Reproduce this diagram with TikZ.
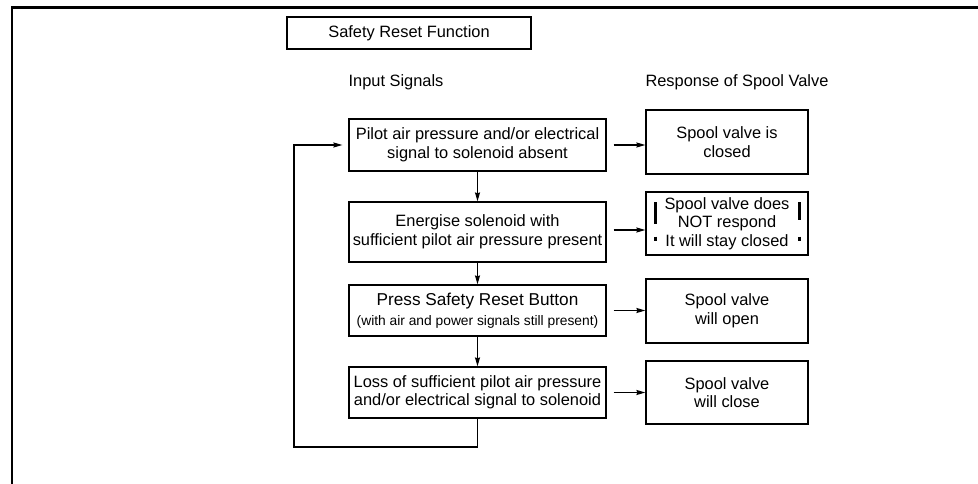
\documentclass[tikz,border=0pt]{standalone}
\usepackage{fontspec}
\setmainfont{Liberation Sans}
\usetikzlibrary{arrows.meta,calc}
\begin{document}
\begin{tikzpicture}[x=1pt,y=-1pt,
  txt/.style={font=\fontsize{16.4}{18.5}\selectfont, align=center, inner sep=0pt},
  lbox/.style={txt, draw=black, line width=1.2pt, minimum width=257pt, minimum height=#1},
  rbox/.style={txt, draw=black, line width=1.2pt, minimum width=162pt, minimum height=#1},
  arr/.style={line width=1.2pt, -{Stealth[length=9pt,width=5pt,inset=1pt]}},
  frameline/.style={line width=2.6pt, black},
  bang/.style={line width=2.4pt, black}
]
\useasboundingbox (0,0) rectangle (978,484);
% outer frame
\coordinate (ftl) at (12,7.5);
\coordinate (ftr) at (978,7.5);
\coordinate (fbl) at (12,484);
\draw[frameline] (ftr) -- (ftl) -- (fbl);
% title
\node[txt, draw=black, line width=1.2pt, minimum width=244pt, minimum height=32pt] (title) at (409,33) {Safety Reset Function};
% headers
\node[txt] (hin) at (396,82) {Input Signals};
\node[txt] (hout) at (737,82) {Response of Spool Valve};
% left column
\node[lbox=52pt] (l1) at (477.5,145) {Pilot air pressure and/or electrical\\signal to solenoid absent};
\node[lbox=60pt] (l2) at (477.5,232) {Energise solenoid with\\sufficient pilot air pressure present};
\node[lbox=51pt] (l3) at (477.5,310.5) {{\fontsize{17.2}{18.5}\selectfont Press Safety Reset Button}\\[1pt]{\fontsize{13.8}{16}\selectfont (with air and power signals still present)}};
\node[lbox=51pt] (l4) at (477.5,392.5) {Loss of sufficient pilot air pressure\\and/or electrical signal to solenoid};
% right column
\node[rbox=64pt] (r1) at (727,142) {Spool valve is\\closed};
\node[rbox=63pt] (r2) at (727,223.5) {Spool valve does\\NOT respond\\It will stay closed};
\node[rbox=64pt] (r3) at (727,311) {Spool valve\\will open};
\node[rbox=63pt] (r4) at (727,392.5) {Spool valve\\will close};
% exclamation marks in r2
\draw[bang] ($(r2.west)+(10,-21)$) -- ($(r2.west)+(10,0)$);
\draw[bang] ($(r2.west)+(10,13)$) -- ($(r2.west)+(10,17)$);
\draw[bang] ($(r2.east)+(-9,-21)$) -- ($(r2.east)+(-9,-3)$);
\draw[bang] ($(r2.east)+(-9,13)$) -- ($(r2.east)+(-9,17)$);
% vertical arrows
\draw[arr] (l1) -- (l2);
\draw[arr] (l2) -- (l3);
\draw[arr] (l3) -- (l4);
% horizontal arrows
\draw[arr] ($(l1.east)+(7,0)$) -- (l1.east -| r1.west);
\draw[arr] ($(l2.east)+(7,-2)$) -- ($(l2.east -| r2.west)+(0,-2)$);
\draw[arr] ($(l3.east)+(7,0)$) -- (l3.east -| r3.west);
\draw[arr] ($(l4.east)+(7,0)$) -- (l4.east -| r4.west);
% feedback loop
\coordinate (fb) at (294,447);
\draw[arr] (l4.south) |- (fb) |- ($(l1.west)+(-6,0)$);
\end{tikzpicture}
\end{document}
